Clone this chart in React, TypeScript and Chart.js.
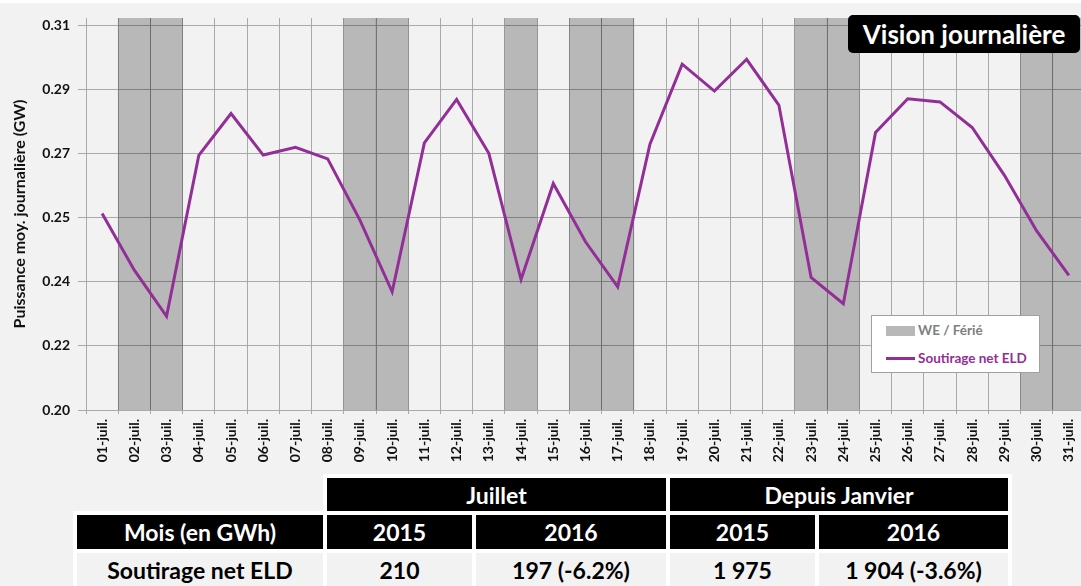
import React, { useEffect, useRef } from "react";
import { Chart, registerables } from "chart.js";

Chart.register(...registerables);

const days = [
  "01-juil.", "02-juil.", "03-juil.", "04-juil.", "05-juil.", "06-juil.", "07-juil.", "08-juil.",
  "09-juil.", "10-juil.", "11-juil.", "12-juil.", "13-juil.", "14-juil.", "15-juil.", "16-juil.",
  "17-juil.", "18-juil.", "19-juil.", "20-juil.", "21-juil.", "22-juil.", "23-juil.", "24-juil.",
  "25-juil.", "26-juil.", "27-juil.", "28-juil.", "29-juil.", "30-juil.", "31-juil.",
];

const soutirage = [
  0.2562, 0.2400, 0.2268, 0.2728, 0.2848, 0.2729, 0.2751, 0.2718,
  0.2543, 0.2338, 0.2764, 0.2888, 0.2734, 0.2373, 0.2648, 0.2481,
  0.2352, 0.2760, 0.2989, 0.2912, 0.3003, 0.2872, 0.2379, 0.2304,
  0.2794, 0.2890, 0.2881, 0.2808, 0.2671, 0.2512, 0.2385,
];

// 1 = week-end / jour férié
const weFerie = [0, 1, 1, 0, 0, 0, 0, 0, 1, 1, 0, 0, 0, 1, 0, 1, 1, 0, 0, 0, 0, 0, 1, 1, 0, 0, 0, 0, 0, 1, 1];

const yMin = 0.2;
const yMax = 0.3121;
const yTickValues = [0.2, 0.21833, 0.23667, 0.255, 0.27333, 0.29167, 0.31];
const yTickLabels = ["0.20", "0.22", "0.24", "0.25", "0.27", "0.29", "0.31"];

const yTitle = "Puissance moy. journalière (GW)";
const badgeText = "Vision journalière";
const seriesLabel = "Soutirage net ELD";
const shadeLabel = "WE / Férié";

const periodHeaders = ["Juillet", "Depuis Janvier"];
const rowHeader = "Mois (en GWh)";
const yearHeaders = ["2015", "2016", "2015", "2016"];
const rowLabel = "Soutirage net ELD";
const rowValues = ["210", "197 (-6.2%)", "1\u00a0975", "1\u00a0904 (-3.6%)"];

const FONT = "Lato, 'Open Sans', sans-serif";
const PURPLE = "#922f96";
const GRID = "#a9a9a9";

export default function App() {
  const canvasRef = useRef<HTMLCanvasElement | null>(null);

  useEffect(() => {
    document.body.style.margin = "0";
    document.body.style.background = "#f2f2f2";
    document.body.style.overflow = "hidden";
    const canvas = canvasRef.current;
    if (!canvas) return;
    const chart = new Chart(canvas, {
      type: "bar",
      data: {
        labels: days,
        datasets: [
          {
            type: "line",
            label: seriesLabel,
            data: soutirage,
            borderColor: PURPLE,
            backgroundColor: PURPLE,
            borderWidth: 3,
            pointRadius: 0,
            tension: 0,
            order: 1,
          } as any,
          {
            type: "bar",
            label: shadeLabel,
            data: weFerie.map((f) => (f ? yMax : null)),
            backgroundColor: "rgba(0,0,0,0.24)",
            barPercentage: 1,
            categoryPercentage: 1,
            borderWidth: 0,
            order: 2,
          } as any,
        ],
      },
      options: {
        responsive: false,
        animation: false,
        layout: { padding: { top: 18, right: 15, bottom: 0, left: 0 } },
        plugins: { legend: { display: false }, tooltip: { enabled: false } },
        scales: {
          x: {
            offset: true,
            grid: { color: GRID, offset: true, tickLength: 4, drawTicks: true },
            border: { color: GRID },
            ticks: {
              autoSkip: false,
              minRotation: 90,
              maxRotation: 90,
              padding: 5,
              color: "#111",
              font: { family: FONT, weight: "bold", size: 14 },
            },
            afterFit: (s: any) => {
              s.height = 60;
            },
          },
          y: {
            min: yMin,
            max: yMax,
            afterBuildTicks: (s: any) => {
              s.ticks = yTickValues.map((v) => ({ value: v }));
            },
            grid: { color: GRID, tickLength: 8 },
            border: { color: GRID },
            ticks: {
              padding: 8,
              color: "#111",
              font: { family: FONT, weight: "bold", size: 14 },
              callback: (_v: any, i: number) => yTickLabels[i],
            },
            title: {
              display: true,
              text: yTitle,
              color: "#111",
              font: { family: FONT, weight: "bold", size: 16 },
              padding: { top: 10, bottom: 0 },
            },
            afterFit: (s: any) => {
              s.width = 86;
            },
          },
        },
      } as any,
    });
    return () => chart.destroy();
  }, []);

  const cellBase: React.CSSProperties = {
    position: "absolute",
    display: "flex",
    alignItems: "center",
    justifyContent: "center",
    fontFamily: FONT,
    fontWeight: 700,
    fontSize: 23,
    whiteSpace: "nowrap",
  };
  const cols = [
    [327, 472],
    [476, 666],
    [670, 815],
    [819, 1008],
  ];

  return (
    <div style={{ position: "relative", width: 1081, height: 586, overflow: "hidden", background: "#f2f2f2" }}>
      <div style={{ position: "absolute", left: 0, top: 0, width: 1081, height: 3, background: "#ffffff" }} />
      <canvas ref={canvasRef} width={1100} height={470} style={{ position: "absolute", left: 0, top: 0 }} />

      {/* badge */}
      <div
        style={{
          ...cellBase,
          left: 848,
          top: 15,
          width: 232,
          height: 38,
          background: "#000",
          color: "#fff",
          borderRadius: 5,
          fontSize: 26,
        }}
      >
        {badgeText}
      </div>

      {/* legend */}
      <div
        style={{
          position: "absolute",
          left: 871,
          top: 315,
          width: 167,
          height: 56,
          background: "#fff",
          border: "1px solid #a0a0a0",
          fontFamily: FONT,
          fontWeight: 700,
          fontSize: 13.5,
        }}
      >
        <div style={{ position: "absolute", left: 14, top: 10, width: 29, height: 10, background: "#b8b8b8" }} />
        <div style={{ position: "absolute", left: 46, top: 6, color: "#808080", lineHeight: "16px" }}>{shadeLabel}</div>
        <div style={{ position: "absolute", left: 14, top: 41, width: 29, height: 3, background: PURPLE }} />
        <div style={{ position: "absolute", left: 46, top: 34, color: PURPLE, lineHeight: "16px" }}>{seriesLabel}</div>
      </div>

      {/* table backgrounds */}
      <div style={{ position: "absolute", left: 323, top: 474, width: 689, height: 41, background: "#fff" }} />
      <div style={{ position: "absolute", left: 73, top: 511, width: 939, height: 80, background: "#fff" }} />

      <div style={{ ...cellBase, left: 327, top: 478, width: 339, height: 33, background: "#000", color: "#fff" }}>
        {periodHeaders[0]}
      </div>
      <div style={{ ...cellBase, left: 670, top: 478, width: 338, height: 33, background: "#000", color: "#fff" }}>
        {periodHeaders[1]}
      </div>

      <div style={{ ...cellBase, left: 77, top: 515, width: 246, height: 34, background: "#000", color: "#fff" }}>
        {rowHeader}
      </div>
      {yearHeaders.map((t, i) => (
        <div
          key={"h" + i}
          style={{ ...cellBase, left: cols[i][0], top: 515, width: cols[i][1] - cols[i][0], height: 34, background: "#000", color: "#fff" }}
        >
          {t}
        </div>
      ))}

      <div style={{ ...cellBase, left: 77, top: 553, width: 246, height: 34, background: "#f2f2f2", color: "#000" }}>
        {rowLabel}
      </div>
      {rowValues.map((t, i) => (
        <div
          key={"v" + i}
          style={{ ...cellBase, left: cols[i][0], top: 553, width: cols[i][1] - cols[i][0], height: 34, background: "#f2f2f2", color: "#000" }}
        >
          {t}
        </div>
      ))}
    </div>
  );
}
